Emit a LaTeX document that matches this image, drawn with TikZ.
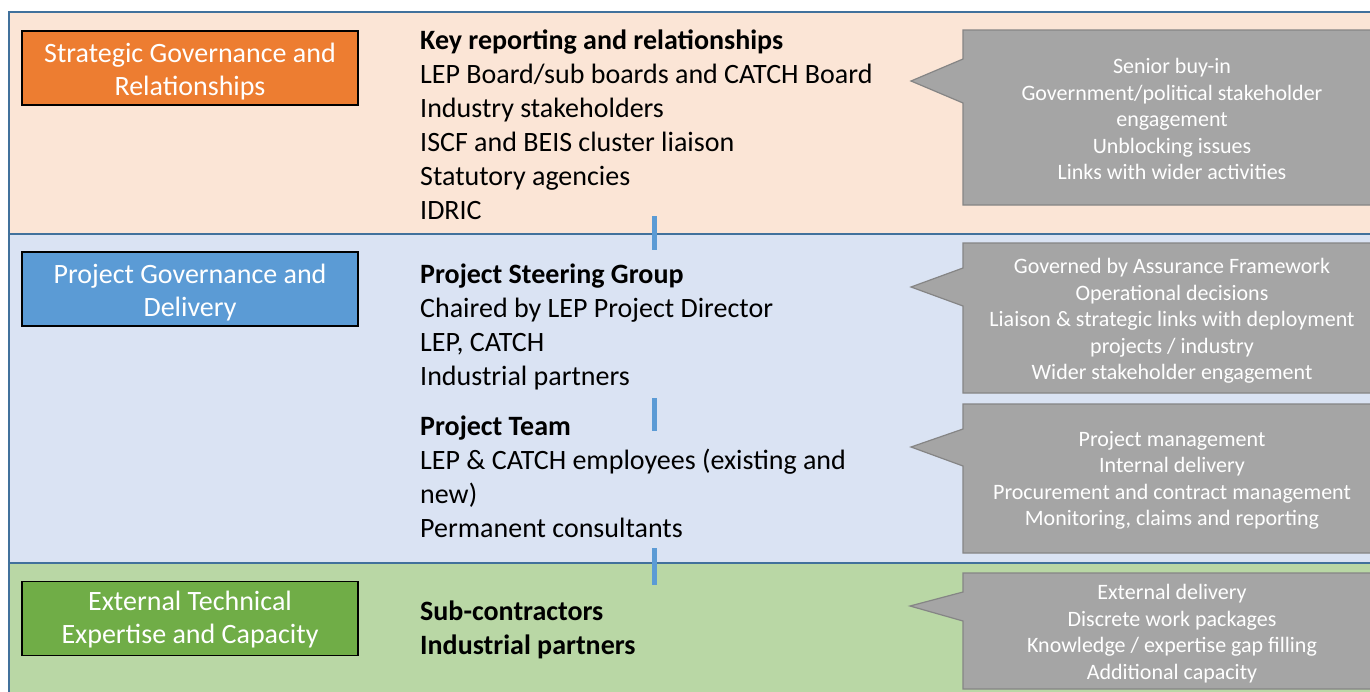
\documentclass[tikz,border=0pt]{standalone}
\usepackage{fontspec}
\setmainfont{Carlito}
\definecolor{topfill}{HTML}{FBE5D6}
\definecolor{midfill}{HTML}{DAE3F3}
\definecolor{botfill}{HTML}{B9D7A5}
\definecolor{bandline}{HTML}{41719C}
\definecolor{orangebox}{HTML}{ED7D31}
\definecolor{bluebox}{HTML}{5B9BD5}
\definecolor{greenbox}{HTML}{70AD47}
\definecolor{calloutfill}{HTML}{A5A5A5}
\definecolor{calloutline}{HTML}{858585}
\definecolor{connline}{HTML}{5B9BD5}
\begin{document}
\begin{tikzpicture}[x=1pt,y=-1pt,
  band/.style={draw=bandline,line width=2.5pt},
  labelbox/.style={draw=black,line width=1.8pt,minimum width=336pt,minimum height=74pt,inner sep=0pt},
  labeltext/.style={inner sep=0pt,text=white,align=center,font=\fontsize{28}{33}\selectfont},
  line/.style={anchor=base west,inner sep=0pt,font=\fontsize{28}{34}\selectfont},
  headline/.style={line,font=\fontsize{28}{34}\selectfont\bfseries},
  calloutshape/.style={fill=calloutfill,draw=calloutline,line width=1.2pt},
  callouttext/.style={text=white,align=center,inner sep=0pt,font=\fontsize{22}{26.5}\selectfont},
  conn/.style={draw=connline,line width=5pt}
]
\useasboundingbox (0,0) rectangle (1370,691);
\clip (0,0) rectangle (1370,691);
% bands
\fill[topfill] (9,12) rectangle (1390,234);
\fill[midfill] (9,234) rectangle (1390,563);
\fill[botfill] (9,563) rectangle (1390,700);
\draw[band] (1390,12) -- (9,12) -- (9,700);
\draw[band] (9,234) -- (1390,234);
\draw[band] (9,563) -- (1390,563);

% label boxes
\node[labelbox,fill=orangebox] (sg) at (190,68) {};
\node[labeltext] (sgt) at ([yshift=-4pt]sg.center) {Strategic Governance and\\Relationships};
\node[labelbox,fill=bluebox] (pg) at (190,289) {};
\node[labeltext] (pgt) at ([yshift=-3.5pt]pg.center) {Project Governance and\\Delivery};
\node[labelbox,fill=greenbox] (et) at (190,618.5) {};
\node[labeltext] (ett) at ([yshift=-1.5pt]et.center) {External Technical\\Expertise and Capacity};

% middle texts
\node[headline] (k0) at (420,49.5) {Key reporting and relationships};
\node[line] (k1) at (420,83.5) {LEP Board/sub boards and CATCH Board};
\node[line] (k2) at (420,117.5) {Industry stakeholders};
\node[line] (k3) at (420,151.5) {ISCF and BEIS cluster liaison};
\node[line] (k4) at (420,185.5) {Statutory agencies};
\node[line] (k5) at (420,219.5) {IDRIC};

\node[headline] (s0) at (420,283.5) {Project Steering Group};
\node[line] (s1) at (420,317.5) {Chaired by LEP Project Director};
\node[line] (s2) at (420,351.5) {LEP, CATCH};
\node[line] (s3) at (420,385.5) {Industrial partners};

\node[headline] (t0) at (420,435.5) {Project Team};
\node[line] (t1) at (420,469.5) {LEP \& CATCH employees (existing and};
\node[line] (t2) at (420,503.5) {new)};
\node[line] (t3) at (420,537.5) {Permanent consultants};

\node[headline] (e0) at (420,620.5) {Sub-contractors};
\node[headline] (e1) at (420,654.5) {Industrial partners};

% connectors
\coordinate (c1a) at (654.5,216);
\coordinate (c1b) at (654.5,250);
\coordinate (c2a) at (654.5,398);
\coordinate (c2b) at (654.5,431);
\coordinate (c3a) at (654.5,548);
\coordinate (c3b) at (654.5,585);
\draw[conn] (c1a) -- (c1b);
\draw[conn] (c2a) -- (c2b);
\draw[conn] (c3a) -- (c3b);

% callouts
\draw[calloutshape] (963,30) -- (1381,30) -- (1381,205) -- (963,205) -- (963,103) -- (911,81) -- (963,59) -- cycle;
\node[callouttext] (co1) at (1172,119) {Senior buy-in\\Government/political stakeholder\\engagement\\Unblocking issues\\Links with wider activities};

\draw[calloutshape] (963,243) -- (1381,243) -- (1381,393) -- (963,393) -- (963,306) -- (911,287) -- (963,268) -- cycle;
\node[callouttext] (co2) at (1172,321) {Governed by Assurance Framework\\Operational decisions\\Liaison \& strategic links with deployment\\projects / industry\\Wider stakeholder engagement};

\draw[calloutshape] (963,404) -- (1381,404) -- (1381,553) -- (963,553) -- (963,466) -- (911,447) -- (963,429) -- cycle;
\node[callouttext] (co3) at (1172,480.5) {Project management\\Internal delivery\\Procurement and contract management\\Monitoring, claims and reporting};

\draw[calloutshape] (963,573) -- (1381,573) -- (1381,689) -- (963,689) -- (963,621) -- (910,606) -- (963,592) -- cycle;
\node[callouttext] (co4) at (1172,633.5) {External delivery\\Discrete work packages\\Knowledge / expertise gap filling\\Additional capacity};
\end{tikzpicture}
\end{document}
